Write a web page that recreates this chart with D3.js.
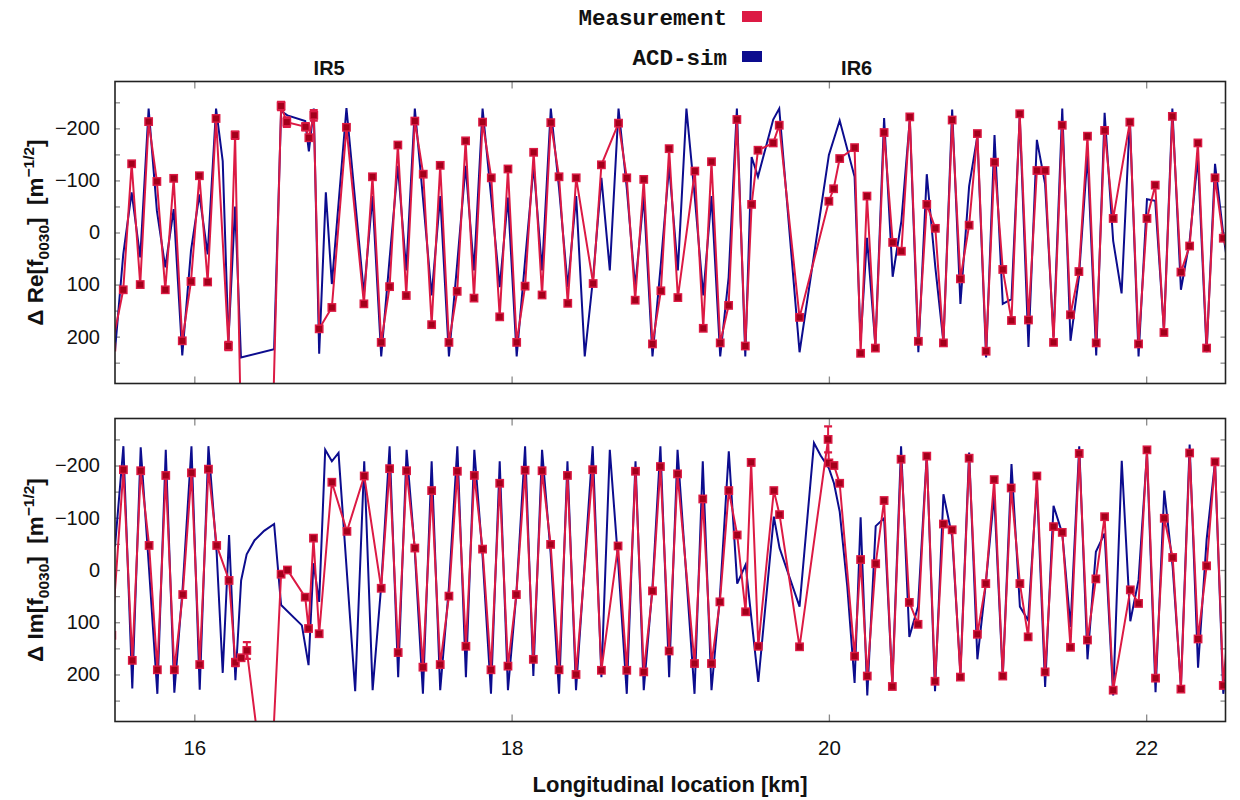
<!DOCTYPE html>
<html><head><meta charset="utf-8">
<script src="https://cdn.jsdelivr.net/npm/d3@7"></script>
<style>body{margin:0;background:#fff}svg{display:block}</style>
</head><body>
<svg id="chart" width="1240" height="800"></svg>
<script>
// ---------- data (x in km, value in m^-1/2) ----------
const xTicks = [16, 18, 20, 22];
const yLabelTicks = [-200, -100, 0, 100, 200];
const yMinorTicks = [-250, -200, -150, -100, -50, 0, 50, 100, 150, 200, 250];
const legendLabels = ["Measurement", "ACD-sim"];
const irLabels = [["IR5", 16.85], ["IR6", 20.175]];

const reMeasurement = [[15.48,220],[15.552,110],[15.605,-132],[15.659,100],[15.712,-213],[15.764,-98],[15.817,110],[15.870,-104],[15.924,208],[15.979,94],[16.032,-109],[16.084,95],[16.137,-219],[16.215,218],[16.257,-187],[16.38,1700],[16.547,-243],[16.583,-212],[16.701,-203],[16.722,-182],[16.753,-225],[16.787,185],[16.867,144],[16.959,-202],[17.069,137],[17.123,-107],[17.178,211],[17.231,104],[17.283,-168],[17.336,121],[17.390,-214],[17.443,-112],[17.496,177],[17.550,-129],[17.605,211],[17.657,113],[17.710,-176],[17.763,126],[17.817,-212],[17.872,-105],[17.925,162],[17.977,-122],[18.032,211],[18.085,103],[18.139,-154],[18.192,120],[18.247,-211],[18.299,-107],[18.354,136],[18.407,-105],[18.514,98],[18.566,-130],[18.674,-210],[18.726,-105],[18.779,130],[18.833,-102],[18.888,214],[18.941,112],[18.993,-161],[19.048,125],[19.155,-118],[19.208,184],[19.260,-136],[19.315,212],[19.368,140],[19.420,-217],[19.473,218],[19.513,-54],[19.553,-158],[19.649,-172],[19.687,-206],[19.815,163],[20.000,-60],[20.030,-84],[20.068,-142],[20.162,-163],[20.200,232],[20.240,-70],[20.293,222],[20.348,-192],[20.402,19],[20.457,36],[20.510,-222],[20.564,209],[20.617,-54],[20.671,-8],[20.722,212],[20.777,-216],[20.829,89],[20.884,-14],[20.936,-190],[20.991,228],[21.044,-135],[21.096,71],[21.151,169],[21.203,-228],[21.258,168],[21.311,-119],[21.363,-119],[21.416,211],[21.471,-206],[21.523,158],[21.576,75],[21.630,-185],[21.685,212],[21.738,-196],[21.792,-27],[21.897,-212],[21.952,214],[22.005,-27],[22.057,-91],[22.112,192],[22.165,-223],[22.219,76],[22.274,26],[22.326,-172],[22.381,222],[22.434,-105],[22.486,11],[22.54,60]];
const reMeasurementErr = [[16.215,218,8],[16.257,-187,7],[16.547,-243,8],[16.583,-212,9],[16.701,-203,7],[16.753,-225,10],[20.0,-60,5]];
const reSimulation = [[15.500,227],[15.552,42],[15.605,-77],[15.659,48],[15.712,-238],[15.764,-42],[15.817,67],[15.870,-45],[15.924,236],[15.979,35],[16.032,-73],[16.084,42],[16.137,-238],[16.179,-137],[16.215,208],[16.257,-50],[16.294,240],[16.503,224],[16.547,-233],[16.587,-225],[16.699,-214],[16.722,-156],[16.753,-238],[16.787,233],[16.829,-77],[16.867,99],[16.959,-239],[17.069,118],[17.123,-70],[17.178,238],[17.231,50],[17.283,-128],[17.336,73],[17.390,-238],[17.443,-60],[17.496,121],[17.550,-70],[17.605,238],[17.657,60],[17.710,-128],[17.763,73],[17.817,-238],[17.872,-65],[17.925,105],[17.977,-67],[18.032,238],[18.085,54],[18.139,-128],[18.192,73],[18.247,-238],[18.299,-85],[18.354,105],[18.407,-70],[18.461,238],[18.514,86],[18.566,-105],[18.619,73],[18.674,-238],[18.726,-85],[18.779,105],[18.833,-70],[18.888,238],[18.941,60],[18.993,-128],[19.048,73],[19.102,-238],[19.155,-67],[19.208,121],[19.260,-70],[19.315,238],[19.368,86],[19.420,-238],[19.473,238],[19.513,-145],[19.553,-107],[19.649,-217],[19.687,-238],[19.815,230],[20.000,-149],[20.068,-215],[20.162,-107],[20.200,208],[20.240,10],[20.293,217],[20.348,-220],[20.402,85],[20.457,-22],[20.510,-217],[20.564,230],[20.617,-112],[20.671,67],[20.722,211],[20.777,-236],[20.829,137],[20.884,-89],[20.936,-185],[20.991,240],[21.044,-187],[21.096,137],[21.151,128],[21.203,-223],[21.258,220],[21.311,-178],[21.363,-93],[21.416,200],[21.471,-238],[21.523,208],[21.576,86],[21.630,-150],[21.685,236],[21.738,-230],[21.792,16],[21.845,117],[21.897,-219],[21.952,238],[22.005,-64],[22.057,-61],[22.112,188],[22.165,-238],[22.219,110],[22.274,16],[22.326,-144],[22.381,230],[22.434,-132],[22.486,3],[22.52,75]];

const imMeasurement = [[15.48,125],[15.553,-192],[15.609,173],[15.662,-190],[15.715,-47],[15.767,191],[15.820,-181],[15.874,191],[15.927,47],[15.982,-186],[16.034,181],[16.089,-193],[16.141,-47],[16.219,20],[16.259,177],[16.295,168],[16.331,154],[16.47,495],[16.547,8],[16.587,0],[16.699,52],[16.720,112],[16.751,-61],[16.787,122],[16.867,-168],[16.962,-74],[17.071,-180],[17.178,35],[17.231,-194],[17.285,158],[17.338,-190],[17.390,-42],[17.441,186],[17.496,-152],[17.550,181],[17.605,50],[17.658,-189],[17.712,146],[17.765,-181],[17.817,-40],[17.870,191],[17.925,-166],[17.977,184],[18.030,47],[18.085,-191],[18.137,171],[18.192,-190],[18.246,-49],[18.299,191],[18.352,-181],[18.406,200],[18.511,-192],[18.566,192],[18.671,-46],[18.726,192],[18.781,-189],[18.833,195],[18.888,40],[18.938,-198],[18.993,155],[19.046,-184],[19.153,179],[19.205,-136],[19.260,179],[19.313,61],[19.369,-152],[19.422,-67],[19.475,80],[19.510,-206],[19.555,146],[19.653,-152],[19.689,-106],[19.815,147],[19.995,-250],[20.000,-205],[20.032,-200],[20.068,-166],[20.162,165],[20.200,-20],[20.242,203],[20.295,-12],[20.348,-133],[20.400,223],[20.455,-212],[20.507,62],[20.562,104],[20.617,-218],[20.669,213],[20.722,-88],[20.777,-77],[20.829,205],[20.884,-214],[20.936,123],[20.989,26],[21.042,-173],[21.096,203],[21.149,-157],[21.204,26],[21.256,128],[21.311,-180],[21.363,195],[21.416,-83],[21.471,-72],[21.523,148],[21.578,-223],[21.630,134],[21.683,17],[21.738,-102],[21.792,230],[21.900,38],[21.952,64],[22.005,-230],[22.059,207],[22.114,-99],[22.167,-24],[22.219,228],[22.274,-224],[22.327,132],[22.381,-8],[22.434,-207],[22.486,221],[22.53,60]];
const imMeasurementErr = [[16.259,177,7],[16.331,154,16],[19.510,-206,6],[19.995,-250,25]];
const imSimulation = [[15.500,-45],[15.553,-237],[15.609,227],[15.662,-235],[15.715,0],[15.767,237],[15.820,-230],[15.874,235],[15.927,32],[15.982,-237],[16.034,229],[16.089,-237],[16.141,-32],[16.179,197],[16.219,-67],[16.259,211],[16.295,20],[16.33,-30],[16.38,-57],[16.44,-75],[16.503,-88],[16.547,67],[16.678,106],[16.720,182],[16.751,-13],[16.787,61],[16.825,-230],[16.867,-208],[16.909,-224],[17.014,232],[17.071,-208],[17.124,230],[17.178,30],[17.231,-237],[17.285,205],[17.338,-230],[17.388,-45],[17.441,237],[17.496,-208],[17.550,230],[17.605,32],[17.658,-237],[17.712,205],[17.765,-230],[17.817,-26],[17.870,237],[17.925,-208],[17.977,230],[18.030,45],[18.085,-237],[18.137,203],[18.192,-230],[18.246,-32],[18.299,237],[18.352,-208],[18.406,230],[18.511,-237],[18.566,205],[18.619,-230],[18.671,-19],[18.726,237],[18.781,-208],[18.833,230],[18.888,32],[18.938,-237],[18.993,205],[19.046,-230],[19.153,237],[19.205,-208],[19.260,230],[19.313,51],[19.369,-227],[19.422,26],[19.475,-10],[19.555,214],[19.653,-102],[19.689,-42],[19.815,70],[19.906,-243],[19.948,-219],[20.000,-195],[20.032,-166],[20.068,-112],[20.116,32],[20.162,216],[20.200,-101],[20.242,240],[20.295,-84],[20.348,-99],[20.400,218],[20.455,-237],[20.507,128],[20.562,70],[20.617,-221],[20.669,232],[20.722,-145],[20.777,-64],[20.829,198],[20.884,-225],[20.936,171],[20.989,26],[21.042,-144],[21.096,205],[21.151,-203],[21.204,70],[21.256,96],[21.311,-166],[21.363,224],[21.416,-123],[21.471,-70],[21.523,109],[21.578,-237],[21.630,171],[21.683,-35],[21.738,-70],[21.792,240],[21.846,-209],[21.900,98],[21.952,19],[22.005,-224],[22.059,234],[22.114,-152],[22.167,-6],[22.219,223],[22.274,-240],[22.327,187],[22.381,-58],[22.434,-207],[22.486,237],[22.52,150]];

// ---------- drawing ----------
const RED = "#dc1a44", RED_DARK = "#a3001b", BLUE = "#0c0c8e";
const FONT = "'Liberation Sans', Arial, Helvetica, sans-serif";
const svg = d3.select("#chart");
const L = 115, R = 1225.5;
const x = d3.scaleLinear().domain([15.5, 22.5]).range([L, R]);

const panels = [
  {top: 81.5, bottom: 383.5, meas: reMeasurement, err: reMeasurementErr, sim: reSimulation, label: "Re", showX: false},
  {top: 418.5, bottom: 721.5, meas: imMeasurement, err: imMeasurementErr, sim: imSimulation, label: "Im", showX: true}
];

const defs = svg.append("defs");

panels.forEach((p, i) => {
  const y = d3.scaleLinear().domain([-290, 290]).range([p.top, p.bottom]);
  const g = svg.append("g");
  const clipId = "clip" + i;
  defs.append("clipPath").attr("id", clipId).append("rect")
    .attr("x", L).attr("y", p.top).attr("width", R - L).attr("height", p.bottom - p.top);

  // ticks (inward, gray)
  const tickStyle = sel => { sel.select(".domain").remove(); sel.selectAll("line").attr("stroke", "#8a8a8a").attr("stroke-width", 1.3); };
  g.append("g").attr("transform", `translate(${L},0)`)
    .call(d3.axisLeft(y).tickValues(yMinorTicks).tickSize(-5).tickFormat("")).call(tickStyle);
  g.append("g").attr("transform", `translate(${R},0)`)
    .call(d3.axisRight(y).tickValues(yMinorTicks).tickSize(-5).tickFormat("")).call(tickStyle);
  g.append("g").attr("transform", `translate(0,${p.bottom})`)
    .call(d3.axisBottom(x).tickValues(xTicks).tickSize(-7).tickFormat("")).call(tickStyle);
  g.append("g").attr("transform", `translate(0,${p.top})`)
    .call(d3.axisTop(x).tickValues(xTicks).tickSize(-7).tickFormat("")).call(tickStyle);

  // y labels
  const ya = g.append("g").attr("transform", `translate(${L},0)`)
    .call(d3.axisLeft(y).tickValues(yLabelTicks).tickSize(0).tickPadding(15));
  ya.select(".domain").remove();
  ya.selectAll("text").attr("font-family", FONT).attr("font-size", 20).attr("fill", "#111");

  if (p.showX) {
    const xa = g.append("g").attr("transform", `translate(0,${p.bottom})`)
      .call(d3.axisBottom(x).tickValues(xTicks).tickSize(0).tickPadding(19).tickFormat(d3.format("d")));
    xa.select(".domain").remove();
    xa.selectAll("text").attr("font-family", FONT).attr("font-size", 20.5).attr("fill", "#111");
  }

  const plot = g.append("g").attr("clip-path", `url(#${clipId})`);
  const line = d3.line().x(d => x(d[0])).y(d => y(d[1]));
  plot.append("path").datum(p.sim).attr("d", line).attr("fill", "none")
    .attr("stroke", BLUE).attr("stroke-width", 2).attr("stroke-linejoin", "miter");
  plot.append("path").datum(p.meas).attr("d", line).attr("fill", "none")
    .attr("stroke", RED).attr("stroke-width", 2);
  // error bars (vertical line with short caps)
  p.err.forEach(e => {
    const cx = x(e[0]), y1 = y(e[1] - e[2]), y2 = y(e[1] + e[2]);
    plot.append("line").attr("x1", cx).attr("x2", cx).attr("y1", y1).attr("y2", y2).attr("stroke", RED).attr("stroke-width", 2);
    [y1, y2].forEach(yy => plot.append("line").attr("x1", cx - 4).attr("x2", cx + 4).attr("y1", yy).attr("y2", yy)
      .attr("stroke", RED).attr("stroke-width", 2.2));
  });
  plot.selectAll("rect.m").data(p.meas).join("rect").attr("class", "m")
    .attr("x", d => x(d[0]) - 3.7).attr("y", d => y(d[1]) - 3.7)
    .attr("width", 7.4).attr("height", 7.4)
    .attr("fill", RED_DARK).attr("stroke", RED).attr("stroke-width", 1.4);

  // frame
  g.append("rect").attr("x", L).attr("y", p.top).attr("width", R - L).attr("height", p.bottom - p.top)
    .attr("fill", "none").attr("stroke", "#222").attr("stroke-width", 1.6);

  // y axis title
  const yc = (p.top + p.bottom) / 2;
  const t = svg.append("text").attr("transform", `translate(43,${yc}) rotate(-90)`)
    .attr("text-anchor", "middle").attr("font-family", FONT).attr("font-weight", "bold")
    .attr("font-size", 22.5).attr("fill", "#111");
  t.append("tspan").text("\u0394 " + p.label + "[f");
  t.append("tspan").attr("font-size", 15.5).attr("dy", 6).text("0030");
  t.append("tspan").attr("dy", -6).text("]\u00a0\u00a0[m");
  t.append("tspan").attr("font-size", 15.5).attr("dy", -9).text("\u22121/2");
  t.append("tspan").attr("dy", 9).text("]");
});

// IR labels
svg.selectAll("text.ir").data(irLabels).join("text").attr("class", "ir")
  .attr("x", d => x(d[1])).attr("y", 75).attr("text-anchor", "middle")
  .attr("font-family", FONT).attr("font-weight", "bold").attr("font-size", 20).attr("fill", "#111")
  .text(d => d[0]);

// x axis title
svg.append("text").attr("x", 670).attr("y", 792).attr("text-anchor", "middle")
  .attr("font-family", FONT).attr("font-weight", "bold").attr("font-size", 22).attr("fill", "#111")
  .text("Longitudinal location [km]");

// legend
const legColors = [RED, BLUE];
legendLabels.forEach((lab, i) => {
  svg.append("text").attr("x", 727).attr("y", 25 + i * 40).attr("text-anchor", "end")
    .attr("font-family", "'Liberation Mono', 'Courier New', monospace").attr("font-weight", "bold")
    .attr("font-size", 22.5).attr("fill", "#111").text(lab);
  svg.append("rect").attr("x", 742).attr("y", 11 + i * 40).attr("width", 20).attr("height", 11)
    .attr("fill", legColors[i]);
});
</script>
</body></html>
